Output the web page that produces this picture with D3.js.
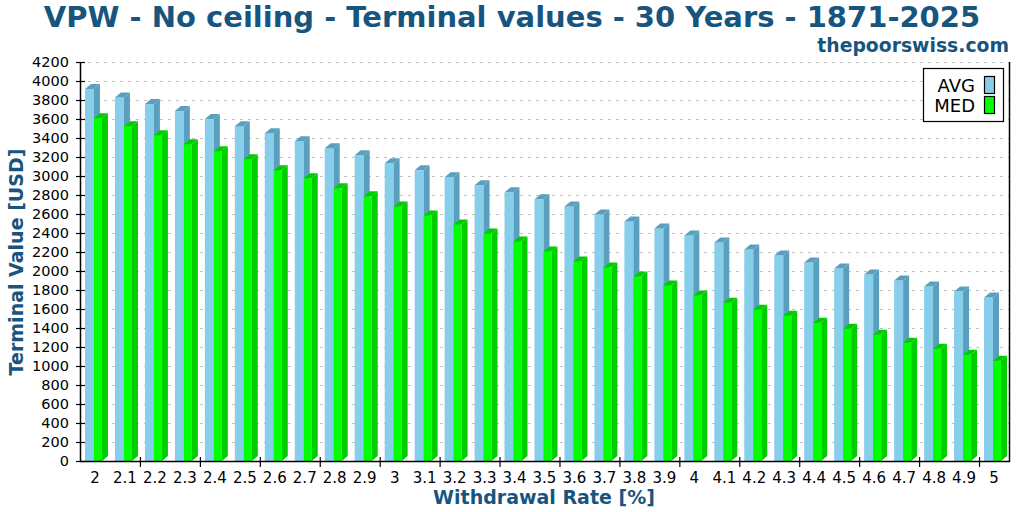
<!DOCTYPE html>
<html>
<head>
<meta charset="utf-8">
<script src="https://cdn.jsdelivr.net/npm/d3@7"></script>
<style>
  body { margin: 0; background: #fff; }
  svg { display: block; font-family: "DejaVu Sans", sans-serif; }
</style>
</head>
<body>
<svg width="1024" height="512"></svg>
<script>
const rates = ["2","2.1","2.2","2.3","2.4","2.5","2.6","2.7","2.8","2.9","3","3.1","3.2","3.3","3.4","3.5",
               "3.6","3.7","3.8","3.9","4","4.1","4.2","4.3","4.4","4.5","4.6","4.7","4.8","4.9","5"];
const avgValues = [3915,3827,3757,3683,3599,3525,3451,3366,3293,3219,3134,3060,2987,2902,2828,2754,
                   2680,2596,2522,2448,2374,2301,2227,2163,2089,2026,1963,1900,1836,1783,1720];
const medValues = [3609,3525,3430,3335,3261,3177,3060,2976,2870,2786,2680,2585,2490,2395,2311,2206,
                   2100,2037,1942,1847,1741,1667,1593,1530,1456,1393,1330,1245,1182,1119,1055];
const yTicks = d3.range(0, 4201, 200);

const titleColor = "#17557f";
const svg = d3.select("svg");

const area = { left: 80, right: 1009, top: 62, bottom: 461 };

const scX = d3.scaleBand()
    .domain(rates)
    .range([area.left, area.right]);

const scY = d3.scaleLinear()
    .domain([0, 4200])
    .range([area.bottom, area.top]);

// gridlines
svg.append("g")
    .selectAll("line")
    .data(yTicks)
    .enter()
    .append("line")
    .attr("x1", area.left)
    .attr("x2", area.right)
    .attr("y1", d => scY(d) + 0.5)
    .attr("y2", d => scY(d) + 0.5)
    .style("stroke", "#c0c0c0")
    .style("stroke-width", 1)
    .style("stroke-dasharray", "3,5");

// 3D bar: front, side, top
function drawBars(values, offset, width, cFront, cSide) {
    const k = scX.bandwidth() / 30;
    const dx = 6 * k, dy = 5;
    const g = svg.append("g");
    const items = rates.map((r, i) => ({ r: r, v: values[i] }));
    items.forEach(d => {
        const x0 = scX(d.r) + offset * k;
        const x1 = x0 + width * k;
        const y0 = scY(d.v);
        const yb = scY(0);
        g.append("rect")
            .attr("x", x0).attr("y", y0)
            .attr("width", x1 - x0).attr("height", yb - y0)
            .style("fill", cFront);
        g.append("path")
            .attr("d", `M${x1},${y0} L${x1 + dx},${y0 - dy} L${x1 + dx},${yb - dy} L${x1},${yb} Z`)
            .style("fill", cSide);
        g.append("path")
            .attr("d", `M${x0},${y0} L${x0 + dx},${y0 - dy} L${x1 + dx},${y0 - dy} L${x1},${y0} Z`)
            .style("fill", cSide);
    });
}

drawBars(avgValues, 5, 9, "#87ceeb", "#5aa0be");
drawBars(medValues, 14, 8, "#00ff00", "#00cc00");

// axes lines
svg.append("line")
    .attr("x1", area.left + 0.5).attr("x2", area.left + 0.5)
    .attr("y1", area.top).attr("y2", area.bottom + 1)
    .style("stroke", "#000").style("stroke-width", 1.5);
svg.append("line")
    .attr("x1", area.right + 0.5).attr("x2", area.right + 0.5)
    .attr("y1", area.top).attr("y2", area.bottom + 1)
    .style("stroke", "#000").style("stroke-width", 1.5);
svg.append("line")
    .attr("x1", area.left).attr("x2", area.right + 1)
    .attr("y1", area.bottom + 0.5).attr("y2", area.bottom + 0.5)
    .style("stroke", "#000").style("stroke-width", 1.5);

// y ticks and labels
const gy = svg.append("g");
gy.selectAll("line")
    .data(yTicks)
    .enter()
    .append("line")
    .attr("x1", area.left - 4).attr("x2", area.left + 5)
    .attr("y1", d => scY(d) + 0.5).attr("y2", d => scY(d) + 0.5)
    .style("stroke", "#000").style("stroke-width", 1.2);
gy.selectAll("text")
    .data(yTicks)
    .enter()
    .append("text")
    .attr("x", 69)
    .attr("y", d => scY(d) + 5)
    .attr("text-anchor", "end")
    .style("font-size", "14.5px")
    .text(d => d);

// x ticks (every second category boundary) and labels
const xTickPos = rates.filter((r, i) => i % 2 === 1 && i < rates.length - 1);
svg.append("g")
    .selectAll("line")
    .data(xTickPos)
    .enter()
    .append("line")
    .attr("x1", d => scX(d) + scX.bandwidth() + 0.5)
    .attr("x2", d => scX(d) + scX.bandwidth() + 0.5)
    .attr("y1", area.bottom - 4).attr("y2", area.bottom + 6)
    .style("stroke", "#000").style("stroke-width", 1.2);
svg.append("g")
    .selectAll("text")
    .data(rates)
    .enter()
    .append("text")
    .attr("x", d => scX(d) + scX.bandwidth() / 2)
    .attr("y", 483)
    .attr("text-anchor", "middle")
    .style("font-size", "15px")
    .text(d => d);

// titles
svg.append("text")
    .attr("x", 512).attr("y", 27)
    .attr("text-anchor", "middle")
    .style("font-size", "29px").style("font-weight", "bold")
    .style("fill", titleColor)
    .text("VPW - No ceiling - Terminal values - 30 Years - 1871-2025");
svg.append("text")
    .attr("x", 1009).attr("y", 52)
    .attr("text-anchor", "end")
    .style("font-size", "18.8px").style("font-weight", "bold")
    .style("fill", titleColor)
    .text("thepoorswiss.com");
svg.append("text")
    .attr("x", 544).attr("y", 504)
    .attr("text-anchor", "middle")
    .style("font-size", "19px").style("font-weight", "bold")
    .style("fill", titleColor)
    .text("Withdrawal Rate [%]");
svg.append("text")
    .attr("transform", "translate(23,262) rotate(-90)")
    .attr("text-anchor", "middle")
    .style("font-size", "19px").style("font-weight", "bold")
    .style("fill", titleColor)
    .text("Terminal Value [USD]");

// legend
const legend = svg.append("g");
legend.append("rect")
    .attr("x", 923.5).attr("y", 68.5).attr("width", 80).attr("height", 53)
    .style("fill", "#fff").style("stroke", "#000").style("stroke-width", 1.2);
const legItems = [["AVG", "#87ceeb"], ["MED", "#00ff00"]];
legItems.forEach((d, i) => {
    legend.append("text")
        .attr("x", 975).attr("y", 92 + i * 20)
        .attr("text-anchor", "end")
        .style("font-size", "18px")
        .text(d[0]);
    legend.append("rect")
        .attr("x", 984.5).attr("y", 76.5 + i * 20).attr("width", 10).attr("height", 17)
        .style("fill", d[1]).style("stroke", "#000").style("stroke-width", 1.2);
});
</script>
</body>
</html>
